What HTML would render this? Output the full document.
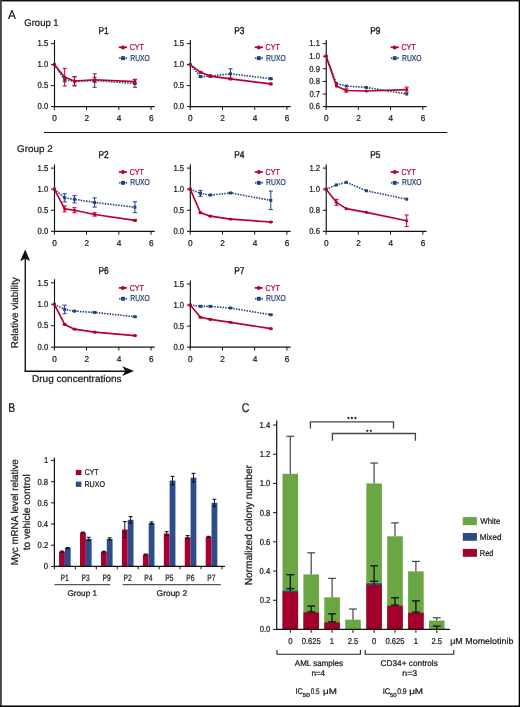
<!DOCTYPE html>
<html><head><meta charset="utf-8"><style>
html,body{margin:0;padding:0;background:#fff;}
#w{width:520px;height:707px;will-change:transform;}
svg{display:block;font-family:"Liberation Sans", sans-serif;text-rendering:geometricPrecision;}
</style></head><body><div id="w">
<svg width="520" height="707" viewBox="0 0 520 707">
<rect width="520" height="707" fill="#fff"/>
<text transform="translate(8.00 18.70) scale(0.931 1)" font-size="12.6" fill="#1a1a1a" stroke="#1a1a1a" stroke-width="0.24">A</text>
<text transform="translate(24.32 25.60) scale(0.980 1)" font-size="9.7" fill="#1a1a1a" stroke="#1a1a1a" stroke-width="0.24">Group 1</text>
<line x1="44.00" y1="132.50" x2="447.20" y2="132.50" stroke="#111" stroke-width="1.1"/>
<text transform="translate(17.11 152.00) scale(1.016 1)" font-size="9.7" fill="#1a1a1a" stroke="#1a1a1a" stroke-width="0.24">Group 2</text>
<line x1="54.50" y1="40.00" x2="54.50" y2="107.20" stroke="#111" stroke-width="1.15"/>
<line x1="53.90" y1="106.60" x2="154.77" y2="106.60" stroke="#111" stroke-width="1.2"/>
<line x1="51.05" y1="106.60" x2="54.35" y2="106.60" stroke="#111" stroke-width="1.0"/>
<text transform="translate(37.53 109.30) scale(0.880 1)" font-size="8.7" fill="#1a1a1a" stroke="#1a1a1a" stroke-width="0.24">0.0</text>
<line x1="51.05" y1="85.60" x2="54.35" y2="85.60" stroke="#111" stroke-width="1.0"/>
<text transform="translate(37.56 88.30) scale(0.880 1)" font-size="8.7" fill="#1a1a1a" stroke="#1a1a1a" stroke-width="0.24">0.5</text>
<line x1="51.05" y1="64.60" x2="54.35" y2="64.60" stroke="#111" stroke-width="1.0"/>
<text transform="translate(37.53 67.30) scale(0.880 1)" font-size="8.7" fill="#1a1a1a" stroke="#1a1a1a" stroke-width="0.24">1.0</text>
<line x1="51.05" y1="43.60" x2="54.35" y2="43.60" stroke="#111" stroke-width="1.0"/>
<text transform="translate(37.56 46.30) scale(0.880 1)" font-size="8.7" fill="#1a1a1a" stroke="#1a1a1a" stroke-width="0.24">1.5</text>
<line x1="54.35" y1="106.60" x2="54.35" y2="109.90" stroke="#111" stroke-width="1.0"/>
<text transform="translate(52.24 121.00) scale(0.970 1)" font-size="8.5" fill="#1a1a1a" stroke="#1a1a1a" stroke-width="0.24">0</text>
<line x1="86.59" y1="106.60" x2="86.59" y2="109.90" stroke="#111" stroke-width="1.0"/>
<text transform="translate(84.50 121.00) scale(0.970 1)" font-size="8.5" fill="#1a1a1a" stroke="#1a1a1a" stroke-width="0.24">2</text>
<line x1="118.83" y1="106.60" x2="118.83" y2="109.90" stroke="#111" stroke-width="1.0"/>
<text transform="translate(116.78 121.00) scale(0.970 1)" font-size="8.5" fill="#1a1a1a" stroke="#1a1a1a" stroke-width="0.24">4</text>
<line x1="151.07" y1="106.60" x2="151.07" y2="109.90" stroke="#111" stroke-width="1.0"/>
<text transform="translate(148.94 121.00) scale(0.970 1)" font-size="8.5" fill="#1a1a1a" stroke="#1a1a1a" stroke-width="0.24">6</text>
<text transform="translate(98.44 33.60) scale(0.830 1)" font-size="10.0" fill="#1a1a1a" stroke="#1a1a1a" stroke-width="0.4">P1</text>
<line x1="118.85" y1="47.30" x2="127.05" y2="47.30" stroke="#b80030" stroke-width="1.7"/>
<circle cx="122.95" cy="47.40" r="2.0" fill="#b80030"/>
<text transform="translate(129.69 50.00) scale(0.828 1)" font-size="8.6" fill="#b80030" stroke="#b80030" stroke-width="0.24">CYT</text>
<rect x="119.15" y="57.30" width="1.40" height="1.60" fill="#22407f"/>
<rect x="125.55" y="57.30" width="1.50" height="1.60" fill="#22407f"/>
<rect x="121.05" y="56.20" width="3.90" height="3.90" fill="#22407f"/>
<text transform="translate(130.26 60.50) scale(0.790 1)" font-size="8.6" fill="#22407f" stroke="#22407f" stroke-width="0.24">RUXO</text>
<polyline points="54.35,64.60 64.67,79.72 74.50,81.40 94.65,80.56 134.95,83.50" fill="none" stroke="#22407f" stroke-width="1.6" stroke-dasharray="1.5 1.2"/>
<rect x="52.85" y="63.10" width="3.00" height="3.00" fill="#22407f"/>
<line x1="64.67" y1="77.62" x2="64.67" y2="81.82" stroke="#22407f" stroke-width="1.0"/>
<line x1="62.57" y1="77.62" x2="66.77" y2="77.62" stroke="#22407f" stroke-width="1.0"/>
<line x1="62.57" y1="81.82" x2="66.77" y2="81.82" stroke="#22407f" stroke-width="1.0"/>
<rect x="63.17" y="78.22" width="3.00" height="3.00" fill="#22407f"/>
<line x1="74.50" y1="76.78" x2="74.50" y2="86.02" stroke="#22407f" stroke-width="1.0"/>
<line x1="72.40" y1="76.78" x2="76.60" y2="76.78" stroke="#22407f" stroke-width="1.0"/>
<line x1="72.40" y1="86.02" x2="76.60" y2="86.02" stroke="#22407f" stroke-width="1.0"/>
<rect x="73.00" y="79.90" width="3.00" height="3.00" fill="#22407f"/>
<line x1="94.65" y1="73.84" x2="94.65" y2="87.28" stroke="#22407f" stroke-width="1.0"/>
<line x1="92.55" y1="73.84" x2="96.75" y2="73.84" stroke="#22407f" stroke-width="1.0"/>
<line x1="92.55" y1="87.28" x2="96.75" y2="87.28" stroke="#22407f" stroke-width="1.0"/>
<rect x="93.15" y="79.06" width="3.00" height="3.00" fill="#22407f"/>
<line x1="134.95" y1="79.72" x2="134.95" y2="87.28" stroke="#22407f" stroke-width="1.0"/>
<line x1="132.85" y1="79.72" x2="137.05" y2="79.72" stroke="#22407f" stroke-width="1.0"/>
<line x1="132.85" y1="87.28" x2="137.05" y2="87.28" stroke="#22407f" stroke-width="1.0"/>
<rect x="133.45" y="82.00" width="3.00" height="3.00" fill="#22407f"/>
<polyline points="54.35,64.60 64.67,77.20 74.50,80.98 94.65,79.72 134.95,81.61" fill="none" stroke="#b80030" stroke-width="1.65" stroke-linejoin="round"/>
<circle cx="54.35" cy="64.60" r="1.6" fill="#b80030"/>
<line x1="64.67" y1="68.38" x2="64.67" y2="86.02" stroke="#b80030" stroke-width="1.0"/>
<line x1="62.57" y1="68.38" x2="66.77" y2="68.38" stroke="#b80030" stroke-width="1.0"/>
<line x1="62.57" y1="86.02" x2="66.77" y2="86.02" stroke="#b80030" stroke-width="1.0"/>
<circle cx="64.67" cy="77.20" r="1.6" fill="#b80030"/>
<line x1="74.50" y1="76.78" x2="74.50" y2="85.18" stroke="#b80030" stroke-width="1.0"/>
<line x1="72.40" y1="76.78" x2="76.60" y2="76.78" stroke="#b80030" stroke-width="1.0"/>
<line x1="72.40" y1="85.18" x2="76.60" y2="85.18" stroke="#b80030" stroke-width="1.0"/>
<circle cx="74.50" cy="80.98" r="1.6" fill="#b80030"/>
<line x1="94.65" y1="77.20" x2="94.65" y2="82.24" stroke="#b80030" stroke-width="1.0"/>
<line x1="92.55" y1="77.20" x2="96.75" y2="77.20" stroke="#b80030" stroke-width="1.0"/>
<line x1="92.55" y1="82.24" x2="96.75" y2="82.24" stroke="#b80030" stroke-width="1.0"/>
<circle cx="94.65" cy="79.72" r="1.6" fill="#b80030"/>
<line x1="134.95" y1="79.30" x2="134.95" y2="83.92" stroke="#b80030" stroke-width="1.0"/>
<line x1="132.85" y1="79.30" x2="137.05" y2="79.30" stroke="#b80030" stroke-width="1.0"/>
<line x1="132.85" y1="83.92" x2="137.05" y2="83.92" stroke="#b80030" stroke-width="1.0"/>
<circle cx="134.95" cy="81.61" r="1.6" fill="#b80030"/>
<line x1="190.35" y1="40.00" x2="190.35" y2="107.20" stroke="#111" stroke-width="1.15"/>
<line x1="189.75" y1="106.60" x2="290.62" y2="106.60" stroke="#111" stroke-width="1.2"/>
<line x1="186.90" y1="106.60" x2="190.20" y2="106.60" stroke="#111" stroke-width="1.0"/>
<text transform="translate(173.38 109.30) scale(0.880 1)" font-size="8.7" fill="#1a1a1a" stroke="#1a1a1a" stroke-width="0.24">0.0</text>
<line x1="186.90" y1="85.60" x2="190.20" y2="85.60" stroke="#111" stroke-width="1.0"/>
<text transform="translate(173.41 88.30) scale(0.880 1)" font-size="8.7" fill="#1a1a1a" stroke="#1a1a1a" stroke-width="0.24">0.5</text>
<line x1="186.90" y1="64.60" x2="190.20" y2="64.60" stroke="#111" stroke-width="1.0"/>
<text transform="translate(173.38 67.30) scale(0.880 1)" font-size="8.7" fill="#1a1a1a" stroke="#1a1a1a" stroke-width="0.24">1.0</text>
<line x1="186.90" y1="43.60" x2="190.20" y2="43.60" stroke="#111" stroke-width="1.0"/>
<text transform="translate(173.41 46.30) scale(0.880 1)" font-size="8.7" fill="#1a1a1a" stroke="#1a1a1a" stroke-width="0.24">1.5</text>
<line x1="190.20" y1="106.60" x2="190.20" y2="109.90" stroke="#111" stroke-width="1.0"/>
<text transform="translate(188.09 121.00) scale(0.970 1)" font-size="8.5" fill="#1a1a1a" stroke="#1a1a1a" stroke-width="0.24">0</text>
<line x1="222.44" y1="106.60" x2="222.44" y2="109.90" stroke="#111" stroke-width="1.0"/>
<text transform="translate(220.35 121.00) scale(0.970 1)" font-size="8.5" fill="#1a1a1a" stroke="#1a1a1a" stroke-width="0.24">2</text>
<line x1="254.68" y1="106.60" x2="254.68" y2="109.90" stroke="#111" stroke-width="1.0"/>
<text transform="translate(252.63 121.00) scale(0.970 1)" font-size="8.5" fill="#1a1a1a" stroke="#1a1a1a" stroke-width="0.24">4</text>
<line x1="286.92" y1="106.60" x2="286.92" y2="109.90" stroke="#111" stroke-width="1.0"/>
<text transform="translate(284.79 121.00) scale(0.970 1)" font-size="8.5" fill="#1a1a1a" stroke="#1a1a1a" stroke-width="0.24">6</text>
<text transform="translate(234.27 33.60) scale(0.830 1)" font-size="10.0" fill="#1a1a1a" stroke="#1a1a1a" stroke-width="0.4">P3</text>
<line x1="254.70" y1="47.30" x2="262.90" y2="47.30" stroke="#b80030" stroke-width="1.7"/>
<circle cx="258.80" cy="47.40" r="2.0" fill="#b80030"/>
<text transform="translate(265.54 50.00) scale(0.828 1)" font-size="8.6" fill="#b80030" stroke="#b80030" stroke-width="0.24">CYT</text>
<rect x="255.00" y="57.30" width="1.40" height="1.60" fill="#22407f"/>
<rect x="261.40" y="57.30" width="1.50" height="1.60" fill="#22407f"/>
<rect x="256.90" y="56.20" width="3.90" height="3.90" fill="#22407f"/>
<text transform="translate(266.11 60.50) scale(0.790 1)" font-size="8.6" fill="#22407f" stroke="#22407f" stroke-width="0.24">RUXO</text>
<polyline points="190.20,64.60 200.52,76.61 210.35,76.11 230.50,73.84 270.80,78.71" fill="none" stroke="#22407f" stroke-width="1.6" stroke-dasharray="1.5 1.2"/>
<rect x="188.70" y="63.10" width="3.00" height="3.00" fill="#22407f"/>
<line x1="200.52" y1="75.77" x2="200.52" y2="77.45" stroke="#22407f" stroke-width="1.0"/>
<line x1="198.42" y1="75.77" x2="202.62" y2="75.77" stroke="#22407f" stroke-width="1.0"/>
<line x1="198.42" y1="77.45" x2="202.62" y2="77.45" stroke="#22407f" stroke-width="1.0"/>
<rect x="199.02" y="75.11" width="3.00" height="3.00" fill="#22407f"/>
<line x1="210.35" y1="75.27" x2="210.35" y2="76.95" stroke="#22407f" stroke-width="1.0"/>
<line x1="208.25" y1="75.27" x2="212.45" y2="75.27" stroke="#22407f" stroke-width="1.0"/>
<line x1="208.25" y1="76.95" x2="212.45" y2="76.95" stroke="#22407f" stroke-width="1.0"/>
<rect x="208.85" y="74.61" width="3.00" height="3.00" fill="#22407f"/>
<line x1="230.50" y1="68.80" x2="230.50" y2="78.88" stroke="#22407f" stroke-width="1.0"/>
<line x1="228.40" y1="68.80" x2="232.60" y2="68.80" stroke="#22407f" stroke-width="1.0"/>
<line x1="228.40" y1="78.88" x2="232.60" y2="78.88" stroke="#22407f" stroke-width="1.0"/>
<rect x="229.00" y="72.34" width="3.00" height="3.00" fill="#22407f"/>
<line x1="270.80" y1="77.87" x2="270.80" y2="79.55" stroke="#22407f" stroke-width="1.0"/>
<line x1="268.70" y1="77.87" x2="272.90" y2="77.87" stroke="#22407f" stroke-width="1.0"/>
<line x1="268.70" y1="79.55" x2="272.90" y2="79.55" stroke="#22407f" stroke-width="1.0"/>
<rect x="269.30" y="77.21" width="3.00" height="3.00" fill="#22407f"/>
<polyline points="190.20,64.60 200.52,72.29 210.35,76.11 230.50,78.88 270.80,83.92" fill="none" stroke="#b80030" stroke-width="1.65" stroke-linejoin="round"/>
<circle cx="190.20" cy="64.60" r="1.6" fill="#b80030"/>
<line x1="200.52" y1="71.45" x2="200.52" y2="73.13" stroke="#b80030" stroke-width="1.0"/>
<line x1="198.42" y1="71.45" x2="202.62" y2="71.45" stroke="#b80030" stroke-width="1.0"/>
<line x1="198.42" y1="73.13" x2="202.62" y2="73.13" stroke="#b80030" stroke-width="1.0"/>
<circle cx="200.52" cy="72.29" r="1.6" fill="#b80030"/>
<line x1="210.35" y1="75.27" x2="210.35" y2="76.95" stroke="#b80030" stroke-width="1.0"/>
<line x1="208.25" y1="75.27" x2="212.45" y2="75.27" stroke="#b80030" stroke-width="1.0"/>
<line x1="208.25" y1="76.95" x2="212.45" y2="76.95" stroke="#b80030" stroke-width="1.0"/>
<circle cx="210.35" cy="76.11" r="1.6" fill="#b80030"/>
<line x1="230.50" y1="78.04" x2="230.50" y2="79.72" stroke="#b80030" stroke-width="1.0"/>
<line x1="228.40" y1="78.04" x2="232.60" y2="78.04" stroke="#b80030" stroke-width="1.0"/>
<line x1="228.40" y1="79.72" x2="232.60" y2="79.72" stroke="#b80030" stroke-width="1.0"/>
<circle cx="230.50" cy="78.88" r="1.6" fill="#b80030"/>
<line x1="270.80" y1="83.08" x2="270.80" y2="84.76" stroke="#b80030" stroke-width="1.0"/>
<line x1="268.70" y1="83.08" x2="272.90" y2="83.08" stroke="#b80030" stroke-width="1.0"/>
<line x1="268.70" y1="84.76" x2="272.90" y2="84.76" stroke="#b80030" stroke-width="1.0"/>
<circle cx="270.80" cy="83.92" r="1.6" fill="#b80030"/>
<line x1="326.25" y1="40.00" x2="326.25" y2="107.20" stroke="#111" stroke-width="1.15"/>
<line x1="325.65" y1="106.60" x2="426.52" y2="106.60" stroke="#111" stroke-width="1.2"/>
<line x1="322.80" y1="106.60" x2="326.10" y2="106.60" stroke="#111" stroke-width="1.0"/>
<text transform="translate(309.31 109.30) scale(0.880 1)" font-size="8.7" fill="#1a1a1a" stroke="#1a1a1a" stroke-width="0.24">0.6</text>
<line x1="322.80" y1="94.00" x2="326.10" y2="94.00" stroke="#111" stroke-width="1.0"/>
<text transform="translate(309.39 96.70) scale(0.880 1)" font-size="8.7" fill="#1a1a1a" stroke="#1a1a1a" stroke-width="0.24">0.7</text>
<line x1="322.80" y1="81.40" x2="326.10" y2="81.40" stroke="#111" stroke-width="1.0"/>
<text transform="translate(309.31 84.10) scale(0.880 1)" font-size="8.7" fill="#1a1a1a" stroke="#1a1a1a" stroke-width="0.24">0.8</text>
<line x1="322.80" y1="68.80" x2="326.10" y2="68.80" stroke="#111" stroke-width="1.0"/>
<text transform="translate(309.35 71.50) scale(0.880 1)" font-size="8.7" fill="#1a1a1a" stroke="#1a1a1a" stroke-width="0.24">0.9</text>
<line x1="322.80" y1="56.20" x2="326.10" y2="56.20" stroke="#111" stroke-width="1.0"/>
<text transform="translate(309.28 58.90) scale(0.880 1)" font-size="8.7" fill="#1a1a1a" stroke="#1a1a1a" stroke-width="0.24">1.0</text>
<line x1="322.80" y1="43.60" x2="326.10" y2="43.60" stroke="#111" stroke-width="1.0"/>
<text transform="translate(309.35 46.30) scale(0.880 1)" font-size="8.7" fill="#1a1a1a" stroke="#1a1a1a" stroke-width="0.24">1.1</text>
<line x1="326.10" y1="106.60" x2="326.10" y2="109.90" stroke="#111" stroke-width="1.0"/>
<text transform="translate(323.99 121.00) scale(0.970 1)" font-size="8.5" fill="#1a1a1a" stroke="#1a1a1a" stroke-width="0.24">0</text>
<line x1="358.34" y1="106.60" x2="358.34" y2="109.90" stroke="#111" stroke-width="1.0"/>
<text transform="translate(356.25 121.00) scale(0.970 1)" font-size="8.5" fill="#1a1a1a" stroke="#1a1a1a" stroke-width="0.24">2</text>
<line x1="390.58" y1="106.60" x2="390.58" y2="109.90" stroke="#111" stroke-width="1.0"/>
<text transform="translate(388.53 121.00) scale(0.970 1)" font-size="8.5" fill="#1a1a1a" stroke="#1a1a1a" stroke-width="0.24">4</text>
<line x1="422.82" y1="106.60" x2="422.82" y2="109.90" stroke="#111" stroke-width="1.0"/>
<text transform="translate(420.69 121.00) scale(0.970 1)" font-size="8.5" fill="#1a1a1a" stroke="#1a1a1a" stroke-width="0.24">6</text>
<text transform="translate(370.19 33.60) scale(0.830 1)" font-size="10.0" fill="#1a1a1a" stroke="#1a1a1a" stroke-width="0.4">P9</text>
<line x1="390.60" y1="47.30" x2="398.80" y2="47.30" stroke="#b80030" stroke-width="1.7"/>
<circle cx="394.70" cy="47.40" r="2.0" fill="#b80030"/>
<text transform="translate(401.44 50.00) scale(0.828 1)" font-size="8.6" fill="#b80030" stroke="#b80030" stroke-width="0.24">CYT</text>
<rect x="390.90" y="57.30" width="1.40" height="1.60" fill="#22407f"/>
<rect x="397.30" y="57.30" width="1.50" height="1.60" fill="#22407f"/>
<rect x="392.80" y="56.20" width="3.90" height="3.90" fill="#22407f"/>
<text transform="translate(402.01 60.50) scale(0.790 1)" font-size="8.6" fill="#22407f" stroke="#22407f" stroke-width="0.24">RUXO</text>
<polyline points="326.10,56.20 336.42,83.54 346.25,86.06 366.40,87.45 406.70,94.00" fill="none" stroke="#22407f" stroke-width="1.6" stroke-dasharray="1.5 1.2"/>
<rect x="324.60" y="54.70" width="3.00" height="3.00" fill="#22407f"/>
<rect x="334.92" y="82.04" width="3.00" height="3.00" fill="#22407f"/>
<rect x="344.75" y="84.56" width="3.00" height="3.00" fill="#22407f"/>
<rect x="364.90" y="85.95" width="3.00" height="3.00" fill="#22407f"/>
<rect x="405.20" y="92.50" width="3.00" height="3.00" fill="#22407f"/>
<polyline points="326.10,56.20 336.42,86.06 346.25,90.47 366.40,90.98 406.70,89.59" fill="none" stroke="#b80030" stroke-width="1.65" stroke-linejoin="round"/>
<circle cx="326.10" cy="56.20" r="1.6" fill="#b80030"/>
<circle cx="336.42" cy="86.06" r="1.6" fill="#b80030"/>
<line x1="346.25" y1="88.83" x2="346.25" y2="92.11" stroke="#b80030" stroke-width="1.0"/>
<line x1="344.15" y1="88.83" x2="348.35" y2="88.83" stroke="#b80030" stroke-width="1.0"/>
<line x1="344.15" y1="92.11" x2="348.35" y2="92.11" stroke="#b80030" stroke-width="1.0"/>
<circle cx="346.25" cy="90.47" r="1.6" fill="#b80030"/>
<circle cx="366.40" cy="90.98" r="1.6" fill="#b80030"/>
<line x1="406.70" y1="87.07" x2="406.70" y2="92.11" stroke="#b80030" stroke-width="1.0"/>
<line x1="404.60" y1="87.07" x2="408.80" y2="87.07" stroke="#b80030" stroke-width="1.0"/>
<line x1="404.60" y1="92.11" x2="408.80" y2="92.11" stroke="#b80030" stroke-width="1.0"/>
<circle cx="406.70" cy="89.59" r="1.6" fill="#b80030"/>
<line x1="54.50" y1="164.50" x2="54.50" y2="231.90" stroke="#111" stroke-width="1.15"/>
<line x1="53.90" y1="231.30" x2="154.77" y2="231.30" stroke="#111" stroke-width="1.2"/>
<line x1="51.05" y1="231.30" x2="54.35" y2="231.30" stroke="#111" stroke-width="1.0"/>
<text transform="translate(37.53 234.00) scale(0.880 1)" font-size="8.7" fill="#1a1a1a" stroke="#1a1a1a" stroke-width="0.24">0.0</text>
<line x1="51.05" y1="210.23" x2="54.35" y2="210.23" stroke="#111" stroke-width="1.0"/>
<text transform="translate(37.56 212.93) scale(0.880 1)" font-size="8.7" fill="#1a1a1a" stroke="#1a1a1a" stroke-width="0.24">0.5</text>
<line x1="51.05" y1="189.17" x2="54.35" y2="189.17" stroke="#111" stroke-width="1.0"/>
<text transform="translate(37.53 191.87) scale(0.880 1)" font-size="8.7" fill="#1a1a1a" stroke="#1a1a1a" stroke-width="0.24">1.0</text>
<line x1="51.05" y1="168.10" x2="54.35" y2="168.10" stroke="#111" stroke-width="1.0"/>
<text transform="translate(37.56 170.80) scale(0.880 1)" font-size="8.7" fill="#1a1a1a" stroke="#1a1a1a" stroke-width="0.24">1.5</text>
<line x1="54.35" y1="231.30" x2="54.35" y2="234.60" stroke="#111" stroke-width="1.0"/>
<text transform="translate(52.24 245.70) scale(0.970 1)" font-size="8.5" fill="#1a1a1a" stroke="#1a1a1a" stroke-width="0.24">0</text>
<line x1="86.59" y1="231.30" x2="86.59" y2="234.60" stroke="#111" stroke-width="1.0"/>
<text transform="translate(84.50 245.70) scale(0.970 1)" font-size="8.5" fill="#1a1a1a" stroke="#1a1a1a" stroke-width="0.24">2</text>
<line x1="118.83" y1="231.30" x2="118.83" y2="234.60" stroke="#111" stroke-width="1.0"/>
<text transform="translate(116.78 245.70) scale(0.970 1)" font-size="8.5" fill="#1a1a1a" stroke="#1a1a1a" stroke-width="0.24">4</text>
<line x1="151.07" y1="231.30" x2="151.07" y2="234.60" stroke="#111" stroke-width="1.0"/>
<text transform="translate(148.94 245.70) scale(0.970 1)" font-size="8.5" fill="#1a1a1a" stroke="#1a1a1a" stroke-width="0.24">6</text>
<text transform="translate(98.46 158.30) scale(0.830 1)" font-size="10.0" fill="#1a1a1a" stroke="#1a1a1a" stroke-width="0.4">P2</text>
<line x1="118.85" y1="172.00" x2="127.05" y2="172.00" stroke="#b80030" stroke-width="1.7"/>
<circle cx="122.95" cy="172.10" r="2.0" fill="#b80030"/>
<text transform="translate(129.69 174.70) scale(0.828 1)" font-size="8.6" fill="#b80030" stroke="#b80030" stroke-width="0.24">CYT</text>
<rect x="119.15" y="182.00" width="1.40" height="1.60" fill="#22407f"/>
<rect x="125.55" y="182.00" width="1.50" height="1.60" fill="#22407f"/>
<rect x="121.05" y="180.90" width="3.90" height="3.90" fill="#22407f"/>
<text transform="translate(130.26 185.20) scale(0.790 1)" font-size="8.6" fill="#22407f" stroke="#22407f" stroke-width="0.24">RUXO</text>
<polyline points="54.35,189.17 64.67,197.80 74.50,199.28 94.65,202.48 134.95,207.20" fill="none" stroke="#22407f" stroke-width="1.6" stroke-dasharray="1.5 1.2"/>
<rect x="52.85" y="187.67" width="3.00" height="3.00" fill="#22407f"/>
<line x1="64.67" y1="193.80" x2="64.67" y2="201.81" stroke="#22407f" stroke-width="1.0"/>
<line x1="62.57" y1="193.80" x2="66.77" y2="193.80" stroke="#22407f" stroke-width="1.0"/>
<line x1="62.57" y1="201.81" x2="66.77" y2="201.81" stroke="#22407f" stroke-width="1.0"/>
<rect x="63.17" y="196.30" width="3.00" height="3.00" fill="#22407f"/>
<line x1="74.50" y1="195.70" x2="74.50" y2="202.86" stroke="#22407f" stroke-width="1.0"/>
<line x1="72.40" y1="195.70" x2="76.60" y2="195.70" stroke="#22407f" stroke-width="1.0"/>
<line x1="72.40" y1="202.86" x2="76.60" y2="202.86" stroke="#22407f" stroke-width="1.0"/>
<rect x="73.00" y="197.78" width="3.00" height="3.00" fill="#22407f"/>
<line x1="94.65" y1="197.85" x2="94.65" y2="207.12" stroke="#22407f" stroke-width="1.0"/>
<line x1="92.55" y1="197.85" x2="96.75" y2="197.85" stroke="#22407f" stroke-width="1.0"/>
<line x1="92.55" y1="207.12" x2="96.75" y2="207.12" stroke="#22407f" stroke-width="1.0"/>
<rect x="93.15" y="200.98" width="3.00" height="3.00" fill="#22407f"/>
<line x1="134.95" y1="201.72" x2="134.95" y2="212.68" stroke="#22407f" stroke-width="1.0"/>
<line x1="132.85" y1="201.72" x2="137.05" y2="201.72" stroke="#22407f" stroke-width="1.0"/>
<line x1="132.85" y1="212.68" x2="137.05" y2="212.68" stroke="#22407f" stroke-width="1.0"/>
<rect x="133.45" y="205.70" width="3.00" height="3.00" fill="#22407f"/>
<polyline points="54.35,189.17 64.67,208.89 74.50,210.23 94.65,214.45 134.95,220.35" fill="none" stroke="#b80030" stroke-width="1.65" stroke-linejoin="round"/>
<circle cx="54.35" cy="189.17" r="1.6" fill="#b80030"/>
<line x1="64.67" y1="205.94" x2="64.67" y2="211.83" stroke="#b80030" stroke-width="1.0"/>
<line x1="62.57" y1="205.94" x2="66.77" y2="205.94" stroke="#b80030" stroke-width="1.0"/>
<line x1="62.57" y1="211.83" x2="66.77" y2="211.83" stroke="#b80030" stroke-width="1.0"/>
<circle cx="64.67" cy="208.89" r="1.6" fill="#b80030"/>
<line x1="74.50" y1="207.71" x2="74.50" y2="212.76" stroke="#b80030" stroke-width="1.0"/>
<line x1="72.40" y1="207.71" x2="76.60" y2="207.71" stroke="#b80030" stroke-width="1.0"/>
<line x1="72.40" y1="212.76" x2="76.60" y2="212.76" stroke="#b80030" stroke-width="1.0"/>
<circle cx="74.50" cy="210.23" r="1.6" fill="#b80030"/>
<line x1="94.65" y1="212.76" x2="94.65" y2="216.13" stroke="#b80030" stroke-width="1.0"/>
<line x1="92.55" y1="212.76" x2="96.75" y2="212.76" stroke="#b80030" stroke-width="1.0"/>
<line x1="92.55" y1="216.13" x2="96.75" y2="216.13" stroke="#b80030" stroke-width="1.0"/>
<circle cx="94.65" cy="214.45" r="1.6" fill="#b80030"/>
<line x1="134.95" y1="219.50" x2="134.95" y2="221.19" stroke="#b80030" stroke-width="1.0"/>
<line x1="132.85" y1="219.50" x2="137.05" y2="219.50" stroke="#b80030" stroke-width="1.0"/>
<line x1="132.85" y1="221.19" x2="137.05" y2="221.19" stroke="#b80030" stroke-width="1.0"/>
<circle cx="134.95" cy="220.35" r="1.6" fill="#b80030"/>
<line x1="190.35" y1="164.50" x2="190.35" y2="231.90" stroke="#111" stroke-width="1.15"/>
<line x1="189.75" y1="231.30" x2="290.62" y2="231.30" stroke="#111" stroke-width="1.2"/>
<line x1="186.90" y1="231.30" x2="190.20" y2="231.30" stroke="#111" stroke-width="1.0"/>
<text transform="translate(173.38 234.00) scale(0.880 1)" font-size="8.7" fill="#1a1a1a" stroke="#1a1a1a" stroke-width="0.24">0.0</text>
<line x1="186.90" y1="210.23" x2="190.20" y2="210.23" stroke="#111" stroke-width="1.0"/>
<text transform="translate(173.41 212.93) scale(0.880 1)" font-size="8.7" fill="#1a1a1a" stroke="#1a1a1a" stroke-width="0.24">0.5</text>
<line x1="186.90" y1="189.17" x2="190.20" y2="189.17" stroke="#111" stroke-width="1.0"/>
<text transform="translate(173.38 191.87) scale(0.880 1)" font-size="8.7" fill="#1a1a1a" stroke="#1a1a1a" stroke-width="0.24">1.0</text>
<line x1="186.90" y1="168.10" x2="190.20" y2="168.10" stroke="#111" stroke-width="1.0"/>
<text transform="translate(173.41 170.80) scale(0.880 1)" font-size="8.7" fill="#1a1a1a" stroke="#1a1a1a" stroke-width="0.24">1.5</text>
<line x1="190.20" y1="231.30" x2="190.20" y2="234.60" stroke="#111" stroke-width="1.0"/>
<text transform="translate(188.09 245.70) scale(0.970 1)" font-size="8.5" fill="#1a1a1a" stroke="#1a1a1a" stroke-width="0.24">0</text>
<line x1="222.44" y1="231.30" x2="222.44" y2="234.60" stroke="#111" stroke-width="1.0"/>
<text transform="translate(220.35 245.70) scale(0.970 1)" font-size="8.5" fill="#1a1a1a" stroke="#1a1a1a" stroke-width="0.24">2</text>
<line x1="254.68" y1="231.30" x2="254.68" y2="234.60" stroke="#111" stroke-width="1.0"/>
<text transform="translate(252.63 245.70) scale(0.970 1)" font-size="8.5" fill="#1a1a1a" stroke="#1a1a1a" stroke-width="0.24">4</text>
<line x1="286.92" y1="231.30" x2="286.92" y2="234.60" stroke="#111" stroke-width="1.0"/>
<text transform="translate(284.79 245.70) scale(0.970 1)" font-size="8.5" fill="#1a1a1a" stroke="#1a1a1a" stroke-width="0.24">6</text>
<text transform="translate(234.23 158.30) scale(0.830 1)" font-size="10.0" fill="#1a1a1a" stroke="#1a1a1a" stroke-width="0.4">P4</text>
<line x1="254.70" y1="172.00" x2="262.90" y2="172.00" stroke="#b80030" stroke-width="1.7"/>
<circle cx="258.80" cy="172.10" r="2.0" fill="#b80030"/>
<text transform="translate(265.54 174.70) scale(0.828 1)" font-size="8.6" fill="#b80030" stroke="#b80030" stroke-width="0.24">CYT</text>
<rect x="255.00" y="182.00" width="1.40" height="1.60" fill="#22407f"/>
<rect x="261.40" y="182.00" width="1.50" height="1.60" fill="#22407f"/>
<rect x="256.90" y="180.90" width="3.90" height="3.90" fill="#22407f"/>
<text transform="translate(266.11 185.20) scale(0.790 1)" font-size="8.6" fill="#22407f" stroke="#22407f" stroke-width="0.24">RUXO</text>
<polyline points="190.20,189.17 200.52,193.38 210.35,195.07 230.50,192.96 270.80,200.33" fill="none" stroke="#22407f" stroke-width="1.6" stroke-dasharray="1.5 1.2"/>
<rect x="188.70" y="187.67" width="3.00" height="3.00" fill="#22407f"/>
<line x1="200.52" y1="190.43" x2="200.52" y2="196.33" stroke="#22407f" stroke-width="1.0"/>
<line x1="198.42" y1="190.43" x2="202.62" y2="190.43" stroke="#22407f" stroke-width="1.0"/>
<line x1="198.42" y1="196.33" x2="202.62" y2="196.33" stroke="#22407f" stroke-width="1.0"/>
<rect x="199.02" y="191.88" width="3.00" height="3.00" fill="#22407f"/>
<line x1="210.35" y1="194.64" x2="210.35" y2="195.49" stroke="#22407f" stroke-width="1.0"/>
<line x1="208.25" y1="194.64" x2="212.45" y2="194.64" stroke="#22407f" stroke-width="1.0"/>
<line x1="208.25" y1="195.49" x2="212.45" y2="195.49" stroke="#22407f" stroke-width="1.0"/>
<rect x="208.85" y="193.57" width="3.00" height="3.00" fill="#22407f"/>
<line x1="230.50" y1="192.54" x2="230.50" y2="193.38" stroke="#22407f" stroke-width="1.0"/>
<line x1="228.40" y1="192.54" x2="232.60" y2="192.54" stroke="#22407f" stroke-width="1.0"/>
<line x1="228.40" y1="193.38" x2="232.60" y2="193.38" stroke="#22407f" stroke-width="1.0"/>
<rect x="229.00" y="191.46" width="3.00" height="3.00" fill="#22407f"/>
<line x1="270.80" y1="191.06" x2="270.80" y2="209.60" stroke="#22407f" stroke-width="1.0"/>
<line x1="268.70" y1="191.06" x2="272.90" y2="191.06" stroke="#22407f" stroke-width="1.0"/>
<line x1="268.70" y1="209.60" x2="272.90" y2="209.60" stroke="#22407f" stroke-width="1.0"/>
<rect x="269.30" y="198.83" width="3.00" height="3.00" fill="#22407f"/>
<polyline points="190.20,189.17 200.52,212.76 210.35,216.13 230.50,219.08 270.80,222.03" fill="none" stroke="#b80030" stroke-width="1.65" stroke-linejoin="round"/>
<circle cx="190.20" cy="189.17" r="1.6" fill="#b80030"/>
<line x1="200.52" y1="212.34" x2="200.52" y2="213.18" stroke="#b80030" stroke-width="1.0"/>
<line x1="198.42" y1="212.34" x2="202.62" y2="212.34" stroke="#b80030" stroke-width="1.0"/>
<line x1="198.42" y1="213.18" x2="202.62" y2="213.18" stroke="#b80030" stroke-width="1.0"/>
<circle cx="200.52" cy="212.76" r="1.6" fill="#b80030"/>
<line x1="210.35" y1="215.71" x2="210.35" y2="216.55" stroke="#b80030" stroke-width="1.0"/>
<line x1="208.25" y1="215.71" x2="212.45" y2="215.71" stroke="#b80030" stroke-width="1.0"/>
<line x1="208.25" y1="216.55" x2="212.45" y2="216.55" stroke="#b80030" stroke-width="1.0"/>
<circle cx="210.35" cy="216.13" r="1.6" fill="#b80030"/>
<line x1="230.50" y1="218.66" x2="230.50" y2="219.50" stroke="#b80030" stroke-width="1.0"/>
<line x1="228.40" y1="218.66" x2="232.60" y2="218.66" stroke="#b80030" stroke-width="1.0"/>
<line x1="228.40" y1="219.50" x2="232.60" y2="219.50" stroke="#b80030" stroke-width="1.0"/>
<circle cx="230.50" cy="219.08" r="1.6" fill="#b80030"/>
<line x1="270.80" y1="221.61" x2="270.80" y2="222.45" stroke="#b80030" stroke-width="1.0"/>
<line x1="268.70" y1="221.61" x2="272.90" y2="221.61" stroke="#b80030" stroke-width="1.0"/>
<line x1="268.70" y1="222.45" x2="272.90" y2="222.45" stroke="#b80030" stroke-width="1.0"/>
<circle cx="270.80" cy="222.03" r="1.6" fill="#b80030"/>
<line x1="326.25" y1="164.50" x2="326.25" y2="231.90" stroke="#111" stroke-width="1.15"/>
<line x1="325.65" y1="231.30" x2="426.52" y2="231.30" stroke="#111" stroke-width="1.2"/>
<line x1="322.80" y1="231.30" x2="326.10" y2="231.30" stroke="#111" stroke-width="1.0"/>
<text transform="translate(309.31 234.00) scale(0.880 1)" font-size="8.7" fill="#1a1a1a" stroke="#1a1a1a" stroke-width="0.24">0.6</text>
<line x1="322.80" y1="210.23" x2="326.10" y2="210.23" stroke="#111" stroke-width="1.0"/>
<text transform="translate(309.31 212.93) scale(0.880 1)" font-size="8.7" fill="#1a1a1a" stroke="#1a1a1a" stroke-width="0.24">0.8</text>
<line x1="322.80" y1="189.17" x2="326.10" y2="189.17" stroke="#111" stroke-width="1.0"/>
<text transform="translate(309.28 191.87) scale(0.880 1)" font-size="8.7" fill="#1a1a1a" stroke="#1a1a1a" stroke-width="0.24">1.0</text>
<line x1="322.80" y1="168.10" x2="326.10" y2="168.10" stroke="#111" stroke-width="1.0"/>
<text transform="translate(309.39 170.80) scale(0.880 1)" font-size="8.7" fill="#1a1a1a" stroke="#1a1a1a" stroke-width="0.24">1.2</text>
<line x1="326.10" y1="231.30" x2="326.10" y2="234.60" stroke="#111" stroke-width="1.0"/>
<text transform="translate(323.99 245.70) scale(0.970 1)" font-size="8.5" fill="#1a1a1a" stroke="#1a1a1a" stroke-width="0.24">0</text>
<line x1="358.34" y1="231.30" x2="358.34" y2="234.60" stroke="#111" stroke-width="1.0"/>
<text transform="translate(356.25 245.70) scale(0.970 1)" font-size="8.5" fill="#1a1a1a" stroke="#1a1a1a" stroke-width="0.24">2</text>
<line x1="390.58" y1="231.30" x2="390.58" y2="234.60" stroke="#111" stroke-width="1.0"/>
<text transform="translate(388.53 245.70) scale(0.970 1)" font-size="8.5" fill="#1a1a1a" stroke="#1a1a1a" stroke-width="0.24">4</text>
<line x1="422.82" y1="231.30" x2="422.82" y2="234.60" stroke="#111" stroke-width="1.0"/>
<text transform="translate(420.69 245.70) scale(0.970 1)" font-size="8.5" fill="#1a1a1a" stroke="#1a1a1a" stroke-width="0.24">6</text>
<text transform="translate(370.17 158.30) scale(0.830 1)" font-size="10.0" fill="#1a1a1a" stroke="#1a1a1a" stroke-width="0.4">P5</text>
<line x1="390.60" y1="172.00" x2="398.80" y2="172.00" stroke="#b80030" stroke-width="1.7"/>
<circle cx="394.70" cy="172.10" r="2.0" fill="#b80030"/>
<text transform="translate(401.44 174.70) scale(0.828 1)" font-size="8.6" fill="#b80030" stroke="#b80030" stroke-width="0.24">CYT</text>
<rect x="390.90" y="182.00" width="1.40" height="1.60" fill="#22407f"/>
<rect x="397.30" y="182.00" width="1.50" height="1.60" fill="#22407f"/>
<rect x="392.80" y="180.90" width="3.90" height="3.90" fill="#22407f"/>
<text transform="translate(402.01 185.20) scale(0.790 1)" font-size="8.6" fill="#22407f" stroke="#22407f" stroke-width="0.24">RUXO</text>
<polyline points="326.10,189.17 336.42,184.95 346.25,182.32 366.40,190.75 406.70,199.17" fill="none" stroke="#22407f" stroke-width="1.6" stroke-dasharray="1.5 1.2"/>
<rect x="324.60" y="187.67" width="3.00" height="3.00" fill="#22407f"/>
<rect x="334.92" y="183.45" width="3.00" height="3.00" fill="#22407f"/>
<rect x="344.75" y="180.82" width="3.00" height="3.00" fill="#22407f"/>
<rect x="364.90" y="189.25" width="3.00" height="3.00" fill="#22407f"/>
<rect x="405.20" y="197.67" width="3.00" height="3.00" fill="#22407f"/>
<polyline points="326.10,189.17 336.42,202.33 346.25,208.65 366.40,212.34 406.70,220.77" fill="none" stroke="#b80030" stroke-width="1.65" stroke-linejoin="round"/>
<circle cx="326.10" cy="189.17" r="1.6" fill="#b80030"/>
<line x1="336.42" y1="199.38" x2="336.42" y2="205.28" stroke="#b80030" stroke-width="1.0"/>
<line x1="334.32" y1="199.38" x2="338.52" y2="199.38" stroke="#b80030" stroke-width="1.0"/>
<line x1="334.32" y1="205.28" x2="338.52" y2="205.28" stroke="#b80030" stroke-width="1.0"/>
<circle cx="336.42" cy="202.33" r="1.6" fill="#b80030"/>
<circle cx="346.25" cy="208.65" r="1.6" fill="#b80030"/>
<circle cx="366.40" cy="212.34" r="1.6" fill="#b80030"/>
<line x1="406.70" y1="214.97" x2="406.70" y2="226.56" stroke="#b80030" stroke-width="1.0"/>
<line x1="404.60" y1="214.97" x2="408.80" y2="214.97" stroke="#b80030" stroke-width="1.0"/>
<line x1="404.60" y1="226.56" x2="408.80" y2="226.56" stroke="#b80030" stroke-width="1.0"/>
<circle cx="406.70" cy="220.77" r="1.6" fill="#b80030"/>
<line x1="54.50" y1="279.20" x2="54.50" y2="347.80" stroke="#111" stroke-width="1.15"/>
<line x1="53.90" y1="347.20" x2="154.77" y2="347.20" stroke="#111" stroke-width="1.2"/>
<line x1="51.05" y1="347.20" x2="54.35" y2="347.20" stroke="#111" stroke-width="1.0"/>
<text transform="translate(37.53 349.90) scale(0.880 1)" font-size="8.7" fill="#1a1a1a" stroke="#1a1a1a" stroke-width="0.24">0.0</text>
<line x1="51.05" y1="325.73" x2="54.35" y2="325.73" stroke="#111" stroke-width="1.0"/>
<text transform="translate(37.56 328.43) scale(0.880 1)" font-size="8.7" fill="#1a1a1a" stroke="#1a1a1a" stroke-width="0.24">0.5</text>
<line x1="51.05" y1="304.27" x2="54.35" y2="304.27" stroke="#111" stroke-width="1.0"/>
<text transform="translate(37.53 306.97) scale(0.880 1)" font-size="8.7" fill="#1a1a1a" stroke="#1a1a1a" stroke-width="0.24">1.0</text>
<line x1="51.05" y1="282.80" x2="54.35" y2="282.80" stroke="#111" stroke-width="1.0"/>
<text transform="translate(37.56 285.50) scale(0.880 1)" font-size="8.7" fill="#1a1a1a" stroke="#1a1a1a" stroke-width="0.24">1.5</text>
<line x1="54.35" y1="347.20" x2="54.35" y2="350.50" stroke="#111" stroke-width="1.0"/>
<text transform="translate(52.24 361.60) scale(0.970 1)" font-size="8.5" fill="#1a1a1a" stroke="#1a1a1a" stroke-width="0.24">0</text>
<line x1="86.59" y1="347.20" x2="86.59" y2="350.50" stroke="#111" stroke-width="1.0"/>
<text transform="translate(84.50 361.60) scale(0.970 1)" font-size="8.5" fill="#1a1a1a" stroke="#1a1a1a" stroke-width="0.24">2</text>
<line x1="118.83" y1="347.20" x2="118.83" y2="350.50" stroke="#111" stroke-width="1.0"/>
<text transform="translate(116.78 361.60) scale(0.970 1)" font-size="8.5" fill="#1a1a1a" stroke="#1a1a1a" stroke-width="0.24">4</text>
<line x1="151.07" y1="347.20" x2="151.07" y2="350.50" stroke="#111" stroke-width="1.0"/>
<text transform="translate(148.94 361.60) scale(0.970 1)" font-size="8.5" fill="#1a1a1a" stroke="#1a1a1a" stroke-width="0.24">6</text>
<text transform="translate(98.42 274.20) scale(0.830 1)" font-size="10.0" fill="#1a1a1a" stroke="#1a1a1a" stroke-width="0.4">P6</text>
<line x1="118.85" y1="287.90" x2="127.05" y2="287.90" stroke="#b80030" stroke-width="1.7"/>
<circle cx="122.95" cy="288.00" r="2.0" fill="#b80030"/>
<text transform="translate(129.69 290.60) scale(0.828 1)" font-size="8.6" fill="#b80030" stroke="#b80030" stroke-width="0.24">CYT</text>
<rect x="119.15" y="297.90" width="1.40" height="1.60" fill="#22407f"/>
<rect x="125.55" y="297.90" width="1.50" height="1.60" fill="#22407f"/>
<rect x="121.05" y="296.80" width="3.90" height="3.90" fill="#22407f"/>
<text transform="translate(130.26 301.10) scale(0.790 1)" font-size="8.6" fill="#22407f" stroke="#22407f" stroke-width="0.24">RUXO</text>
<polyline points="54.35,304.27 64.67,309.42 74.50,311.14 94.65,312.42 134.95,316.72" fill="none" stroke="#22407f" stroke-width="1.6" stroke-dasharray="1.5 1.2"/>
<rect x="52.85" y="302.77" width="3.00" height="3.00" fill="#22407f"/>
<line x1="64.67" y1="305.13" x2="64.67" y2="313.71" stroke="#22407f" stroke-width="1.0"/>
<line x1="62.57" y1="305.13" x2="66.77" y2="305.13" stroke="#22407f" stroke-width="1.0"/>
<line x1="62.57" y1="313.71" x2="66.77" y2="313.71" stroke="#22407f" stroke-width="1.0"/>
<rect x="63.17" y="307.92" width="3.00" height="3.00" fill="#22407f"/>
<line x1="74.50" y1="310.71" x2="74.50" y2="311.57" stroke="#22407f" stroke-width="1.0"/>
<line x1="72.40" y1="310.71" x2="76.60" y2="310.71" stroke="#22407f" stroke-width="1.0"/>
<line x1="72.40" y1="311.57" x2="76.60" y2="311.57" stroke="#22407f" stroke-width="1.0"/>
<rect x="73.00" y="309.64" width="3.00" height="3.00" fill="#22407f"/>
<line x1="94.65" y1="311.99" x2="94.65" y2="312.85" stroke="#22407f" stroke-width="1.0"/>
<line x1="92.55" y1="311.99" x2="96.75" y2="311.99" stroke="#22407f" stroke-width="1.0"/>
<line x1="92.55" y1="312.85" x2="96.75" y2="312.85" stroke="#22407f" stroke-width="1.0"/>
<rect x="93.15" y="310.92" width="3.00" height="3.00" fill="#22407f"/>
<line x1="134.95" y1="316.29" x2="134.95" y2="317.15" stroke="#22407f" stroke-width="1.0"/>
<line x1="132.85" y1="316.29" x2="137.05" y2="316.29" stroke="#22407f" stroke-width="1.0"/>
<line x1="132.85" y1="317.15" x2="137.05" y2="317.15" stroke="#22407f" stroke-width="1.0"/>
<rect x="133.45" y="315.22" width="3.00" height="3.00" fill="#22407f"/>
<polyline points="54.35,304.27 64.67,324.45 74.50,329.17 94.65,332.17 134.95,335.61" fill="none" stroke="#b80030" stroke-width="1.65" stroke-linejoin="round"/>
<circle cx="54.35" cy="304.27" r="1.6" fill="#b80030"/>
<line x1="64.67" y1="324.02" x2="64.67" y2="324.87" stroke="#b80030" stroke-width="1.0"/>
<line x1="62.57" y1="324.02" x2="66.77" y2="324.02" stroke="#b80030" stroke-width="1.0"/>
<line x1="62.57" y1="324.87" x2="66.77" y2="324.87" stroke="#b80030" stroke-width="1.0"/>
<circle cx="64.67" cy="324.45" r="1.6" fill="#b80030"/>
<line x1="74.50" y1="328.74" x2="74.50" y2="329.60" stroke="#b80030" stroke-width="1.0"/>
<line x1="72.40" y1="328.74" x2="76.60" y2="328.74" stroke="#b80030" stroke-width="1.0"/>
<line x1="72.40" y1="329.60" x2="76.60" y2="329.60" stroke="#b80030" stroke-width="1.0"/>
<circle cx="74.50" cy="329.17" r="1.6" fill="#b80030"/>
<line x1="94.65" y1="331.74" x2="94.65" y2="332.60" stroke="#b80030" stroke-width="1.0"/>
<line x1="92.55" y1="331.74" x2="96.75" y2="331.74" stroke="#b80030" stroke-width="1.0"/>
<line x1="92.55" y1="332.60" x2="96.75" y2="332.60" stroke="#b80030" stroke-width="1.0"/>
<circle cx="94.65" cy="332.17" r="1.6" fill="#b80030"/>
<line x1="134.95" y1="335.18" x2="134.95" y2="336.04" stroke="#b80030" stroke-width="1.0"/>
<line x1="132.85" y1="335.18" x2="137.05" y2="335.18" stroke="#b80030" stroke-width="1.0"/>
<line x1="132.85" y1="336.04" x2="137.05" y2="336.04" stroke="#b80030" stroke-width="1.0"/>
<circle cx="134.95" cy="335.61" r="1.6" fill="#b80030"/>
<line x1="190.35" y1="280.40" x2="190.35" y2="347.80" stroke="#111" stroke-width="1.15"/>
<line x1="189.75" y1="347.20" x2="290.62" y2="347.20" stroke="#111" stroke-width="1.2"/>
<line x1="186.90" y1="347.20" x2="190.20" y2="347.20" stroke="#111" stroke-width="1.0"/>
<text transform="translate(173.38 349.90) scale(0.880 1)" font-size="8.7" fill="#1a1a1a" stroke="#1a1a1a" stroke-width="0.24">0.0</text>
<line x1="186.90" y1="326.13" x2="190.20" y2="326.13" stroke="#111" stroke-width="1.0"/>
<text transform="translate(173.41 328.83) scale(0.880 1)" font-size="8.7" fill="#1a1a1a" stroke="#1a1a1a" stroke-width="0.24">0.5</text>
<line x1="186.90" y1="305.07" x2="190.20" y2="305.07" stroke="#111" stroke-width="1.0"/>
<text transform="translate(173.38 307.77) scale(0.880 1)" font-size="8.7" fill="#1a1a1a" stroke="#1a1a1a" stroke-width="0.24">1.0</text>
<line x1="186.90" y1="284.00" x2="190.20" y2="284.00" stroke="#111" stroke-width="1.0"/>
<text transform="translate(173.41 286.70) scale(0.880 1)" font-size="8.7" fill="#1a1a1a" stroke="#1a1a1a" stroke-width="0.24">1.5</text>
<line x1="190.20" y1="347.20" x2="190.20" y2="350.50" stroke="#111" stroke-width="1.0"/>
<text transform="translate(188.09 361.60) scale(0.970 1)" font-size="8.5" fill="#1a1a1a" stroke="#1a1a1a" stroke-width="0.24">0</text>
<line x1="222.44" y1="347.20" x2="222.44" y2="350.50" stroke="#111" stroke-width="1.0"/>
<text transform="translate(220.35 361.60) scale(0.970 1)" font-size="8.5" fill="#1a1a1a" stroke="#1a1a1a" stroke-width="0.24">2</text>
<line x1="254.68" y1="347.20" x2="254.68" y2="350.50" stroke="#111" stroke-width="1.0"/>
<text transform="translate(252.63 361.60) scale(0.970 1)" font-size="8.5" fill="#1a1a1a" stroke="#1a1a1a" stroke-width="0.24">4</text>
<line x1="286.92" y1="347.20" x2="286.92" y2="350.50" stroke="#111" stroke-width="1.0"/>
<text transform="translate(284.79 361.60) scale(0.970 1)" font-size="8.5" fill="#1a1a1a" stroke="#1a1a1a" stroke-width="0.24">6</text>
<text transform="translate(234.31 274.20) scale(0.830 1)" font-size="10.0" fill="#1a1a1a" stroke="#1a1a1a" stroke-width="0.4">P7</text>
<line x1="254.70" y1="287.90" x2="262.90" y2="287.90" stroke="#b80030" stroke-width="1.7"/>
<circle cx="258.80" cy="288.00" r="2.0" fill="#b80030"/>
<text transform="translate(265.54 290.60) scale(0.828 1)" font-size="8.6" fill="#b80030" stroke="#b80030" stroke-width="0.24">CYT</text>
<rect x="255.00" y="297.90" width="1.40" height="1.60" fill="#22407f"/>
<rect x="261.40" y="297.90" width="1.50" height="1.60" fill="#22407f"/>
<rect x="256.90" y="296.80" width="3.90" height="3.90" fill="#22407f"/>
<text transform="translate(266.11 301.10) scale(0.790 1)" font-size="8.6" fill="#22407f" stroke="#22407f" stroke-width="0.24">RUXO</text>
<polyline points="190.20,305.07 200.52,306.33 210.35,306.33 230.50,308.02 270.80,314.76" fill="none" stroke="#22407f" stroke-width="1.6" stroke-dasharray="1.5 1.2"/>
<rect x="188.70" y="303.57" width="3.00" height="3.00" fill="#22407f"/>
<line x1="200.52" y1="305.91" x2="200.52" y2="306.75" stroke="#22407f" stroke-width="1.0"/>
<line x1="198.42" y1="305.91" x2="202.62" y2="305.91" stroke="#22407f" stroke-width="1.0"/>
<line x1="198.42" y1="306.75" x2="202.62" y2="306.75" stroke="#22407f" stroke-width="1.0"/>
<rect x="199.02" y="304.83" width="3.00" height="3.00" fill="#22407f"/>
<line x1="210.35" y1="305.91" x2="210.35" y2="306.75" stroke="#22407f" stroke-width="1.0"/>
<line x1="208.25" y1="305.91" x2="212.45" y2="305.91" stroke="#22407f" stroke-width="1.0"/>
<line x1="208.25" y1="306.75" x2="212.45" y2="306.75" stroke="#22407f" stroke-width="1.0"/>
<rect x="208.85" y="304.83" width="3.00" height="3.00" fill="#22407f"/>
<line x1="230.50" y1="307.59" x2="230.50" y2="308.44" stroke="#22407f" stroke-width="1.0"/>
<line x1="228.40" y1="307.59" x2="232.60" y2="307.59" stroke="#22407f" stroke-width="1.0"/>
<line x1="228.40" y1="308.44" x2="232.60" y2="308.44" stroke="#22407f" stroke-width="1.0"/>
<rect x="229.00" y="306.52" width="3.00" height="3.00" fill="#22407f"/>
<line x1="270.80" y1="314.34" x2="270.80" y2="315.18" stroke="#22407f" stroke-width="1.0"/>
<line x1="268.70" y1="314.34" x2="272.90" y2="314.34" stroke="#22407f" stroke-width="1.0"/>
<line x1="268.70" y1="315.18" x2="272.90" y2="315.18" stroke="#22407f" stroke-width="1.0"/>
<rect x="269.30" y="313.26" width="3.00" height="3.00" fill="#22407f"/>
<polyline points="190.20,305.07 200.52,317.29 210.35,319.39 230.50,322.34 270.80,328.66" fill="none" stroke="#b80030" stroke-width="1.65" stroke-linejoin="round"/>
<circle cx="190.20" cy="305.07" r="1.6" fill="#b80030"/>
<line x1="200.52" y1="316.86" x2="200.52" y2="317.71" stroke="#b80030" stroke-width="1.0"/>
<line x1="198.42" y1="316.86" x2="202.62" y2="316.86" stroke="#b80030" stroke-width="1.0"/>
<line x1="198.42" y1="317.71" x2="202.62" y2="317.71" stroke="#b80030" stroke-width="1.0"/>
<circle cx="200.52" cy="317.29" r="1.6" fill="#b80030"/>
<line x1="210.35" y1="318.97" x2="210.35" y2="319.81" stroke="#b80030" stroke-width="1.0"/>
<line x1="208.25" y1="318.97" x2="212.45" y2="318.97" stroke="#b80030" stroke-width="1.0"/>
<line x1="208.25" y1="319.81" x2="212.45" y2="319.81" stroke="#b80030" stroke-width="1.0"/>
<circle cx="210.35" cy="319.39" r="1.6" fill="#b80030"/>
<line x1="230.50" y1="321.92" x2="230.50" y2="322.76" stroke="#b80030" stroke-width="1.0"/>
<line x1="228.40" y1="321.92" x2="232.60" y2="321.92" stroke="#b80030" stroke-width="1.0"/>
<line x1="228.40" y1="322.76" x2="232.60" y2="322.76" stroke="#b80030" stroke-width="1.0"/>
<circle cx="230.50" cy="322.34" r="1.6" fill="#b80030"/>
<line x1="270.80" y1="328.24" x2="270.80" y2="329.08" stroke="#b80030" stroke-width="1.0"/>
<line x1="268.70" y1="328.24" x2="272.90" y2="328.24" stroke="#b80030" stroke-width="1.0"/>
<line x1="268.70" y1="329.08" x2="272.90" y2="329.08" stroke="#b80030" stroke-width="1.0"/>
<circle cx="270.80" cy="328.66" r="1.6" fill="#b80030"/>
<line x1="25.30" y1="371.90" x2="25.30" y2="257.00" stroke="#1a1a1a" stroke-width="1.45"/>
<polygon points="25.2,249.4 20.2,261.2 25.2,258.4 30.1,261.2" fill="#111"/>
<line x1="24.60" y1="371.20" x2="126.00" y2="371.20" stroke="#111" stroke-width="1.4"/>
<polygon points="134,371.1 122.3,366.2 125.2,371.1 122.3,376.0" fill="#111"/>
<text transform="translate(18.00 348.29) rotate(-90) scale(1.002 1)" font-size="9.9" fill="#1a1a1a" stroke="#1a1a1a" stroke-width="0.24">Relative viability</text>
<text transform="translate(32.00 381.50) scale(1.022 1)" font-size="9.8" fill="#1a1a1a" stroke="#1a1a1a" stroke-width="0.24">Drug concentrations</text>
<text transform="translate(8.16 411.80) scale(0.824 1)" font-size="12.7" fill="#1a1a1a" stroke="#1a1a1a" stroke-width="0.24">B</text>
<line x1="51.10" y1="566.45" x2="54.40" y2="566.45" stroke="#111" stroke-width="1.0"/>
<text transform="translate(43.82 569.45) scale(0.880 1)" font-size="8.7" fill="#1a1a1a" stroke="#1a1a1a" stroke-width="0.24">0</text>
<line x1="51.10" y1="545.25" x2="54.40" y2="545.25" stroke="#111" stroke-width="1.0"/>
<text transform="translate(37.54 548.25) scale(0.880 1)" font-size="8.7" fill="#1a1a1a" stroke="#1a1a1a" stroke-width="0.24">0.2</text>
<line x1="51.10" y1="524.05" x2="54.40" y2="524.05" stroke="#111" stroke-width="1.0"/>
<text transform="translate(37.39 527.05) scale(0.880 1)" font-size="8.7" fill="#1a1a1a" stroke="#1a1a1a" stroke-width="0.24">0.4</text>
<line x1="51.10" y1="502.85" x2="54.40" y2="502.85" stroke="#111" stroke-width="1.0"/>
<text transform="translate(37.46 505.85) scale(0.880 1)" font-size="8.7" fill="#1a1a1a" stroke="#1a1a1a" stroke-width="0.24">0.6</text>
<line x1="51.10" y1="481.65" x2="54.40" y2="481.65" stroke="#111" stroke-width="1.0"/>
<text transform="translate(37.46 484.65) scale(0.880 1)" font-size="8.7" fill="#1a1a1a" stroke="#1a1a1a" stroke-width="0.24">0.8</text>
<line x1="51.10" y1="460.45" x2="54.40" y2="460.45" stroke="#111" stroke-width="1.0"/>
<text transform="translate(43.90 463.45) scale(0.880 1)" font-size="8.7" fill="#1a1a1a" stroke="#1a1a1a" stroke-width="0.24">1</text>
<line x1="54.40" y1="566.45" x2="54.40" y2="569.25" stroke="#111" stroke-width="1.0"/>
<line x1="75.35" y1="566.45" x2="75.35" y2="569.25" stroke="#111" stroke-width="1.0"/>
<line x1="96.30" y1="566.45" x2="96.30" y2="569.25" stroke="#111" stroke-width="1.0"/>
<line x1="117.25" y1="566.45" x2="117.25" y2="569.25" stroke="#111" stroke-width="1.0"/>
<line x1="138.20" y1="566.45" x2="138.20" y2="569.25" stroke="#111" stroke-width="1.0"/>
<line x1="159.15" y1="566.45" x2="159.15" y2="569.25" stroke="#111" stroke-width="1.0"/>
<line x1="180.10" y1="566.45" x2="180.10" y2="569.25" stroke="#111" stroke-width="1.0"/>
<line x1="201.05" y1="566.45" x2="201.05" y2="569.25" stroke="#111" stroke-width="1.0"/>
<line x1="222.00" y1="566.45" x2="222.00" y2="569.25" stroke="#111" stroke-width="1.0"/>
<rect x="59.08" y="551.61" width="5.80" height="14.84" fill="#a8002e"/>
<rect x="64.88" y="547.90" width="5.80" height="18.55" fill="#2c4c8a"/>
<line x1="61.98" y1="551.08" x2="61.98" y2="552.14" stroke="#111" stroke-width="1.0"/>
<line x1="60.08" y1="551.08" x2="63.88" y2="551.08" stroke="#111" stroke-width="1.1"/>
<line x1="60.08" y1="552.14" x2="63.88" y2="552.14" stroke="#111" stroke-width="1.1"/>
<line x1="67.78" y1="547.48" x2="67.78" y2="548.32" stroke="#111" stroke-width="1.0"/>
<line x1="65.88" y1="547.48" x2="69.68" y2="547.48" stroke="#111" stroke-width="1.1"/>
<line x1="65.88" y1="548.32" x2="69.68" y2="548.32" stroke="#111" stroke-width="1.1"/>
<text transform="translate(60.56 580.60) scale(0.730 1)" font-size="9.2" fill="#1a1a1a" stroke="#1a1a1a" stroke-width="0.24">P1</text>
<rect x="80.02" y="532.53" width="5.80" height="33.92" fill="#a8002e"/>
<rect x="85.82" y="538.89" width="5.80" height="27.56" fill="#2c4c8a"/>
<line x1="82.92" y1="532.11" x2="82.92" y2="532.95" stroke="#111" stroke-width="1.0"/>
<line x1="81.02" y1="532.11" x2="84.82" y2="532.11" stroke="#111" stroke-width="1.1"/>
<line x1="81.02" y1="532.95" x2="84.82" y2="532.95" stroke="#111" stroke-width="1.1"/>
<line x1="88.72" y1="537.30" x2="88.72" y2="540.48" stroke="#111" stroke-width="1.0"/>
<line x1="86.82" y1="537.30" x2="90.62" y2="537.30" stroke="#111" stroke-width="1.1"/>
<line x1="86.82" y1="540.48" x2="90.62" y2="540.48" stroke="#111" stroke-width="1.1"/>
<text transform="translate(81.49 580.60) scale(0.730 1)" font-size="9.2" fill="#1a1a1a" stroke="#1a1a1a" stroke-width="0.24">P3</text>
<rect x="100.98" y="551.61" width="5.80" height="14.84" fill="#a8002e"/>
<rect x="106.78" y="538.89" width="5.80" height="27.56" fill="#2c4c8a"/>
<line x1="103.88" y1="551.19" x2="103.88" y2="552.03" stroke="#111" stroke-width="1.0"/>
<line x1="101.97" y1="551.19" x2="105.78" y2="551.19" stroke="#111" stroke-width="1.1"/>
<line x1="101.97" y1="552.03" x2="105.78" y2="552.03" stroke="#111" stroke-width="1.1"/>
<line x1="109.68" y1="537.83" x2="109.68" y2="539.95" stroke="#111" stroke-width="1.0"/>
<line x1="107.78" y1="537.83" x2="111.58" y2="537.83" stroke="#111" stroke-width="1.1"/>
<line x1="107.78" y1="539.95" x2="111.58" y2="539.95" stroke="#111" stroke-width="1.1"/>
<text transform="translate(102.46 580.60) scale(0.730 1)" font-size="9.2" fill="#1a1a1a" stroke="#1a1a1a" stroke-width="0.24">P9</text>
<rect x="121.92" y="529.56" width="5.80" height="36.89" fill="#a8002e"/>
<rect x="127.72" y="519.81" width="5.80" height="46.64" fill="#2c4c8a"/>
<line x1="124.82" y1="521.61" x2="124.82" y2="537.51" stroke="#111" stroke-width="1.0"/>
<line x1="122.92" y1="521.61" x2="126.72" y2="521.61" stroke="#111" stroke-width="1.1"/>
<line x1="122.92" y1="537.51" x2="126.72" y2="537.51" stroke="#111" stroke-width="1.1"/>
<line x1="130.62" y1="516.63" x2="130.62" y2="522.99" stroke="#111" stroke-width="1.0"/>
<line x1="128.72" y1="516.63" x2="132.53" y2="516.63" stroke="#111" stroke-width="1.1"/>
<line x1="128.72" y1="522.99" x2="132.53" y2="522.99" stroke="#111" stroke-width="1.1"/>
<text transform="translate(123.43 580.60) scale(0.730 1)" font-size="9.2" fill="#1a1a1a" stroke="#1a1a1a" stroke-width="0.24">P2</text>
<rect x="142.87" y="554.47" width="5.80" height="11.98" fill="#a8002e"/>
<rect x="148.67" y="522.99" width="5.80" height="43.46" fill="#2c4c8a"/>
<line x1="145.77" y1="554.05" x2="145.77" y2="554.90" stroke="#111" stroke-width="1.0"/>
<line x1="143.87" y1="554.05" x2="147.67" y2="554.05" stroke="#111" stroke-width="1.1"/>
<line x1="143.87" y1="554.90" x2="147.67" y2="554.90" stroke="#111" stroke-width="1.1"/>
<line x1="151.57" y1="521.93" x2="151.57" y2="524.05" stroke="#111" stroke-width="1.0"/>
<line x1="149.67" y1="521.93" x2="153.47" y2="521.93" stroke="#111" stroke-width="1.1"/>
<line x1="149.67" y1="524.05" x2="153.47" y2="524.05" stroke="#111" stroke-width="1.1"/>
<text transform="translate(144.31 580.60) scale(0.730 1)" font-size="9.2" fill="#1a1a1a" stroke="#1a1a1a" stroke-width="0.24">P4</text>
<rect x="163.82" y="533.59" width="5.80" height="32.86" fill="#a8002e"/>
<rect x="169.62" y="480.59" width="5.80" height="85.86" fill="#2c4c8a"/>
<line x1="166.72" y1="531.68" x2="166.72" y2="535.50" stroke="#111" stroke-width="1.0"/>
<line x1="164.82" y1="531.68" x2="168.62" y2="531.68" stroke="#111" stroke-width="1.1"/>
<line x1="164.82" y1="535.50" x2="168.62" y2="535.50" stroke="#111" stroke-width="1.1"/>
<line x1="172.53" y1="476.35" x2="172.53" y2="484.83" stroke="#111" stroke-width="1.0"/>
<line x1="170.62" y1="476.35" x2="174.43" y2="476.35" stroke="#111" stroke-width="1.1"/>
<line x1="170.62" y1="484.83" x2="174.43" y2="484.83" stroke="#111" stroke-width="1.1"/>
<text transform="translate(165.29 580.60) scale(0.730 1)" font-size="9.2" fill="#1a1a1a" stroke="#1a1a1a" stroke-width="0.24">P5</text>
<rect x="184.77" y="537.19" width="5.80" height="29.26" fill="#a8002e"/>
<rect x="190.57" y="477.62" width="5.80" height="88.83" fill="#2c4c8a"/>
<line x1="187.67" y1="535.60" x2="187.67" y2="538.78" stroke="#111" stroke-width="1.0"/>
<line x1="185.77" y1="535.60" x2="189.57" y2="535.60" stroke="#111" stroke-width="1.1"/>
<line x1="185.77" y1="538.78" x2="189.57" y2="538.78" stroke="#111" stroke-width="1.1"/>
<line x1="193.47" y1="473.38" x2="193.47" y2="481.86" stroke="#111" stroke-width="1.0"/>
<line x1="191.57" y1="473.38" x2="195.38" y2="473.38" stroke="#111" stroke-width="1.1"/>
<line x1="191.57" y1="481.86" x2="195.38" y2="481.86" stroke="#111" stroke-width="1.1"/>
<text transform="translate(186.24 580.60) scale(0.730 1)" font-size="9.2" fill="#1a1a1a" stroke="#1a1a1a" stroke-width="0.24">P6</text>
<rect x="205.72" y="536.77" width="5.80" height="29.68" fill="#a8002e"/>
<rect x="211.53" y="502.85" width="5.80" height="63.60" fill="#2c4c8a"/>
<line x1="208.62" y1="536.35" x2="208.62" y2="537.19" stroke="#111" stroke-width="1.0"/>
<line x1="206.72" y1="536.35" x2="210.53" y2="536.35" stroke="#111" stroke-width="1.1"/>
<line x1="206.72" y1="537.19" x2="210.53" y2="537.19" stroke="#111" stroke-width="1.1"/>
<line x1="214.43" y1="499.25" x2="214.43" y2="506.45" stroke="#111" stroke-width="1.0"/>
<line x1="212.53" y1="499.25" x2="216.33" y2="499.25" stroke="#111" stroke-width="1.1"/>
<line x1="212.53" y1="506.45" x2="216.33" y2="506.45" stroke="#111" stroke-width="1.1"/>
<text transform="translate(207.23 580.60) scale(0.730 1)" font-size="9.2" fill="#1a1a1a" stroke="#1a1a1a" stroke-width="0.24">P7</text>
<line x1="54.40" y1="457.80" x2="54.40" y2="567.05" stroke="#111" stroke-width="1.2"/>
<line x1="53.80" y1="566.45" x2="225.00" y2="566.45" stroke="#111" stroke-width="1.25"/>
<line x1="54.40" y1="584.60" x2="110.20" y2="584.60" stroke="#555" stroke-width="1.3"/>
<line x1="122.70" y1="584.60" x2="220.80" y2="584.60" stroke="#555" stroke-width="1.3"/>
<text transform="translate(67.49 595.70) scale(0.999 1)" font-size="8.2" fill="#1a1a1a" stroke="#1a1a1a" stroke-width="0.24">Group 1</text>
<text transform="translate(156.58 595.70) scale(1.032 1)" font-size="8.2" fill="#1a1a1a" stroke="#1a1a1a" stroke-width="0.24">Group 2</text>
<rect x="75.80" y="469.90" width="5.60" height="5.20" fill="#a8002e"/>
<rect x="75.80" y="481.60" width="5.60" height="5.30" fill="#2c4c8a"/>
<text transform="translate(84.66 475.30) scale(0.830 1)" font-size="8.3" fill="#1a1a1a" stroke="#1a1a1a" stroke-width="0.24">CYT</text>
<text transform="translate(84.43 487.00) scale(0.860 1)" font-size="8.3" fill="#1a1a1a" stroke="#1a1a1a" stroke-width="0.24">RUXO</text>
<text transform="translate(18.10 565.28) rotate(-90) scale(0.979 1)" font-size="10.0" fill="#1a1a1a" stroke="#1a1a1a" stroke-width="0.24">Myc mRNA level relative</text>
<text transform="translate(29.60 550.35) rotate(-90) scale(1.013 1)" font-size="10.0" fill="#1a1a1a" stroke="#1a1a1a" stroke-width="0.24">to vehicle control</text>
<text transform="translate(241.86 412.00) scale(0.843 1)" font-size="12.7" fill="#1a1a1a" stroke="#1a1a1a" stroke-width="0.24">C</text>
<line x1="273.10" y1="629.45" x2="276.70" y2="629.45" stroke="#111" stroke-width="1.0"/>
<text transform="translate(259.63 632.45) scale(0.880 1)" font-size="8.7" fill="#1a1a1a" stroke="#1a1a1a" stroke-width="0.24">0.0</text>
<line x1="273.10" y1="600.25" x2="276.70" y2="600.25" stroke="#111" stroke-width="1.0"/>
<text transform="translate(259.74 603.25) scale(0.880 1)" font-size="8.7" fill="#1a1a1a" stroke="#1a1a1a" stroke-width="0.24">0.2</text>
<line x1="273.10" y1="571.05" x2="276.70" y2="571.05" stroke="#111" stroke-width="1.0"/>
<text transform="translate(259.59 574.05) scale(0.880 1)" font-size="8.7" fill="#1a1a1a" stroke="#1a1a1a" stroke-width="0.24">0.4</text>
<line x1="273.10" y1="541.85" x2="276.70" y2="541.85" stroke="#111" stroke-width="1.0"/>
<text transform="translate(259.66 544.85) scale(0.880 1)" font-size="8.7" fill="#1a1a1a" stroke="#1a1a1a" stroke-width="0.24">0.6</text>
<line x1="273.10" y1="512.65" x2="276.70" y2="512.65" stroke="#111" stroke-width="1.0"/>
<text transform="translate(259.66 515.65) scale(0.880 1)" font-size="8.7" fill="#1a1a1a" stroke="#1a1a1a" stroke-width="0.24">0.8</text>
<line x1="273.10" y1="483.45" x2="276.70" y2="483.45" stroke="#111" stroke-width="1.0"/>
<text transform="translate(259.63 486.45) scale(0.880 1)" font-size="8.7" fill="#1a1a1a" stroke="#1a1a1a" stroke-width="0.24">1.0</text>
<line x1="273.10" y1="454.25" x2="276.70" y2="454.25" stroke="#111" stroke-width="1.0"/>
<text transform="translate(259.74 457.25) scale(0.880 1)" font-size="8.7" fill="#1a1a1a" stroke="#1a1a1a" stroke-width="0.24">1.2</text>
<line x1="273.10" y1="425.05" x2="276.70" y2="425.05" stroke="#111" stroke-width="1.0"/>
<text transform="translate(259.59 428.05) scale(0.880 1)" font-size="8.7" fill="#1a1a1a" stroke="#1a1a1a" stroke-width="0.24">1.4</text>
<rect x="282.50" y="473.81" width="15.60" height="155.64" fill="#6aa643"/>
<rect x="282.50" y="591.49" width="15.60" height="37.96" fill="#a3002b"/>
<rect x="282.50" y="590.61" width="15.60" height="1.18" fill="#2c4a84"/>
<line x1="290.30" y1="436.29" x2="290.30" y2="473.81" stroke="#444" stroke-width="1.2"/>
<line x1="286.40" y1="436.29" x2="294.20" y2="436.29" stroke="#444" stroke-width="1.2"/>
<line x1="290.30" y1="574.70" x2="290.30" y2="591.49" stroke="#111" stroke-width="1.3"/>
<line x1="286.40" y1="574.70" x2="294.20" y2="574.70" stroke="#111" stroke-width="1.3"/>
<line x1="286.40" y1="588.57" x2="294.20" y2="588.57" stroke="#111" stroke-width="1.3"/>
<line x1="290.30" y1="629.45" x2="290.30" y2="632.75" stroke="#111" stroke-width="1.0"/>
<rect x="303.40" y="574.41" width="15.60" height="55.04" fill="#6aa643"/>
<rect x="303.40" y="612.37" width="15.60" height="17.08" fill="#a3002b"/>
<line x1="311.20" y1="552.80" x2="311.20" y2="574.41" stroke="#444" stroke-width="1.2"/>
<line x1="307.30" y1="552.80" x2="315.10" y2="552.80" stroke="#444" stroke-width="1.2"/>
<line x1="311.20" y1="606.09" x2="311.20" y2="612.37" stroke="#111" stroke-width="1.3"/>
<line x1="307.30" y1="606.09" x2="315.10" y2="606.09" stroke="#111" stroke-width="1.3"/>
<line x1="307.30" y1="611.93" x2="315.10" y2="611.93" stroke="#111" stroke-width="1.3"/>
<line x1="311.20" y1="629.45" x2="311.20" y2="632.75" stroke="#111" stroke-width="1.0"/>
<rect x="324.30" y="597.33" width="15.60" height="32.12" fill="#6aa643"/>
<rect x="324.30" y="622.30" width="15.60" height="7.15" fill="#a3002b"/>
<line x1="332.10" y1="578.35" x2="332.10" y2="597.33" stroke="#444" stroke-width="1.2"/>
<line x1="328.20" y1="578.35" x2="336.00" y2="578.35" stroke="#444" stroke-width="1.2"/>
<line x1="332.10" y1="613.83" x2="332.10" y2="622.30" stroke="#111" stroke-width="1.3"/>
<line x1="328.20" y1="613.83" x2="336.00" y2="613.83" stroke="#111" stroke-width="1.3"/>
<line x1="328.20" y1="621.86" x2="336.00" y2="621.86" stroke="#111" stroke-width="1.3"/>
<line x1="332.10" y1="629.45" x2="332.10" y2="632.75" stroke="#111" stroke-width="1.0"/>
<rect x="345.20" y="619.67" width="15.60" height="9.78" fill="#6aa643"/>
<line x1="353.00" y1="609.01" x2="353.00" y2="619.67" stroke="#444" stroke-width="1.2"/>
<line x1="349.10" y1="609.01" x2="356.90" y2="609.01" stroke="#444" stroke-width="1.2"/>
<line x1="353.00" y1="629.45" x2="353.00" y2="632.75" stroke="#111" stroke-width="1.0"/>
<rect x="366.30" y="483.45" width="15.60" height="146.00" fill="#6aa643"/>
<rect x="366.30" y="584.77" width="15.60" height="44.68" fill="#a3002b"/>
<rect x="366.30" y="583.31" width="15.60" height="1.77" fill="#2c4a84"/>
<line x1="374.10" y1="463.01" x2="374.10" y2="483.45" stroke="#444" stroke-width="1.2"/>
<line x1="370.20" y1="463.01" x2="378.00" y2="463.01" stroke="#444" stroke-width="1.2"/>
<line x1="374.10" y1="565.79" x2="374.10" y2="584.77" stroke="#111" stroke-width="1.3"/>
<line x1="370.20" y1="565.79" x2="378.00" y2="565.79" stroke="#111" stroke-width="1.3"/>
<line x1="370.20" y1="581.27" x2="378.00" y2="581.27" stroke="#111" stroke-width="1.3"/>
<line x1="374.10" y1="629.45" x2="374.10" y2="632.75" stroke="#111" stroke-width="1.0"/>
<rect x="387.20" y="536.30" width="15.60" height="93.15" fill="#6aa643"/>
<rect x="387.20" y="605.65" width="15.60" height="23.80" fill="#a3002b"/>
<line x1="395.00" y1="522.87" x2="395.00" y2="536.30" stroke="#444" stroke-width="1.2"/>
<line x1="391.10" y1="522.87" x2="398.90" y2="522.87" stroke="#444" stroke-width="1.2"/>
<line x1="395.00" y1="597.77" x2="395.00" y2="605.65" stroke="#111" stroke-width="1.3"/>
<line x1="391.10" y1="597.77" x2="398.90" y2="597.77" stroke="#111" stroke-width="1.3"/>
<line x1="391.10" y1="605.07" x2="398.90" y2="605.07" stroke="#111" stroke-width="1.3"/>
<line x1="395.00" y1="629.45" x2="395.00" y2="632.75" stroke="#111" stroke-width="1.0"/>
<rect x="408.10" y="571.34" width="15.60" height="58.11" fill="#6aa643"/>
<rect x="408.10" y="612.81" width="15.60" height="16.64" fill="#a3002b"/>
<line x1="415.90" y1="561.41" x2="415.90" y2="571.34" stroke="#444" stroke-width="1.2"/>
<line x1="412.00" y1="561.41" x2="419.80" y2="561.41" stroke="#444" stroke-width="1.2"/>
<line x1="415.90" y1="600.83" x2="415.90" y2="612.81" stroke="#111" stroke-width="1.3"/>
<line x1="412.00" y1="600.83" x2="419.80" y2="600.83" stroke="#111" stroke-width="1.3"/>
<line x1="412.00" y1="612.22" x2="419.80" y2="612.22" stroke="#111" stroke-width="1.3"/>
<line x1="415.90" y1="629.45" x2="415.90" y2="632.75" stroke="#111" stroke-width="1.0"/>
<rect x="429.00" y="620.54" width="15.60" height="8.91" fill="#6aa643"/>
<line x1="436.80" y1="617.77" x2="436.80" y2="620.54" stroke="#444" stroke-width="1.2"/>
<line x1="432.90" y1="617.77" x2="440.70" y2="617.77" stroke="#444" stroke-width="1.2"/>
<line x1="436.80" y1="626.09" x2="436.80" y2="629.45" stroke="#111" stroke-width="1.3"/>
<line x1="432.90" y1="626.09" x2="440.70" y2="626.09" stroke="#111" stroke-width="1.3"/>
<line x1="436.80" y1="629.45" x2="436.80" y2="632.75" stroke="#111" stroke-width="1.0"/>
<line x1="276.70" y1="420.40" x2="276.70" y2="630.05" stroke="#111" stroke-width="1.2"/>
<line x1="276.10" y1="629.45" x2="450.00" y2="629.45" stroke="#111" stroke-width="1.25"/>
<text transform="translate(288.16 643.70) scale(0.900 1)" font-size="8.5" fill="#1a1a1a" stroke="#1a1a1a" stroke-width="0.24">0</text>
<text transform="translate(301.64 643.70) scale(0.900 1)" font-size="8.5" fill="#1a1a1a" stroke="#1a1a1a" stroke-width="0.24">0.625</text>
<text transform="translate(329.86 643.70) scale(0.900 1)" font-size="8.5" fill="#1a1a1a" stroke="#1a1a1a" stroke-width="0.24">1</text>
<text transform="translate(347.64 643.70) scale(0.900 1)" font-size="8.5" fill="#1a1a1a" stroke="#1a1a1a" stroke-width="0.24">2.5</text>
<text transform="translate(371.96 643.70) scale(0.900 1)" font-size="8.5" fill="#1a1a1a" stroke="#1a1a1a" stroke-width="0.24">0</text>
<text transform="translate(385.44 643.70) scale(0.900 1)" font-size="8.5" fill="#1a1a1a" stroke="#1a1a1a" stroke-width="0.24">0.625</text>
<text transform="translate(413.66 643.70) scale(0.900 1)" font-size="8.5" fill="#1a1a1a" stroke="#1a1a1a" stroke-width="0.24">1</text>
<text transform="translate(431.44 643.70) scale(0.900 1)" font-size="8.5" fill="#1a1a1a" stroke="#1a1a1a" stroke-width="0.24">2.5</text>
<text transform="translate(450.22 644.00) scale(1.038 1)" font-size="8.6" fill="#1a1a1a" stroke="#1a1a1a" stroke-width="0.24">&#956;M Momelotinib</text>
<polyline points="310.4,428.5 310.4,421.8 393.5,421.8 393.5,428.5" fill="none" stroke="#444" stroke-width="1.3"/>
<polyline points="332.4,440.8 332.4,433.5 415.4,433.5 415.4,440.8" fill="none" stroke="#444" stroke-width="1.3"/>
<circle cx="348.4" cy="418.0" r="1.15" fill="#2a2a2a"/>
<circle cx="351.9" cy="418.0" r="1.15" fill="#2a2a2a"/>
<circle cx="355.4" cy="418.0" r="1.15" fill="#2a2a2a"/>
<circle cx="367.3" cy="430.8" r="1.15" fill="#2a2a2a"/>
<circle cx="370.8" cy="430.8" r="1.15" fill="#2a2a2a"/>
<polyline points="277,650 277,654.2 360.4,654.2 360.4,650" fill="none" stroke="#222" stroke-width="1.1"/>
<polyline points="365.2,650 365.2,654.2 453.8,654.2 453.8,650" fill="none" stroke="#222" stroke-width="1.1"/>
<text transform="translate(294.80 665.60) scale(0.966 1)" font-size="8.3" fill="#1a1a1a" stroke="#1a1a1a" stroke-width="0.24">AML samples</text>
<text transform="translate(311.38 676.20) scale(0.971 1)" font-size="8.3" fill="#1a1a1a" stroke="#1a1a1a" stroke-width="0.24">n=4</text>
<text transform="translate(380.59 665.60) scale(0.996 1)" font-size="8.3" fill="#1a1a1a" stroke="#1a1a1a" stroke-width="0.24">CD34+ controls</text>
<text transform="translate(402.23 676.20) scale(1.061 1)" font-size="8.3" fill="#1a1a1a" stroke="#1a1a1a" stroke-width="0.24">n=3</text>
<text transform="translate(295.44 694.30) scale(0.903 1)" font-size="8.1" fill="#1a1a1a" stroke="#1a1a1a" stroke-width="0.24">IC</text>
<text transform="translate(302.64 696.60) scale(1.173 1)" font-size="5.6" fill="#1a1a1a" stroke="#1a1a1a" stroke-width="0.24">50</text>
<text transform="translate(310.74 694.30) scale(0.792 1)" font-size="8.1" fill="#1a1a1a" stroke="#1a1a1a" stroke-width="0.24">0.5</text>
<text transform="translate(323.07 694.30) scale(1.205 1)" font-size="8.1" fill="#1a1a1a" stroke="#1a1a1a" stroke-width="0.24">&#956;M</text>
<text transform="translate(382.72 694.30) scale(0.931 1)" font-size="8.1" fill="#1a1a1a" stroke="#1a1a1a" stroke-width="0.24">IC</text>
<text transform="translate(389.96 696.60) scale(1.052 1)" font-size="5.6" fill="#1a1a1a" stroke="#1a1a1a" stroke-width="0.24">50</text>
<text transform="translate(397.13 694.30) scale(0.842 1)" font-size="8.1" fill="#1a1a1a" stroke="#1a1a1a" stroke-width="0.24">0.9</text>
<text transform="translate(409.16 694.30) scale(1.215 1)" font-size="8.1" fill="#1a1a1a" stroke="#1a1a1a" stroke-width="0.24">&#956;M</text>
<text transform="translate(251.50 585.31) rotate(-90) scale(0.992 1)" font-size="10.2" fill="#1a1a1a" stroke="#1a1a1a" stroke-width="0.24">Normalized colony number</text>
<rect x="462.80" y="517.10" width="14.10" height="8.10" fill="#6aa643"/>
<rect x="462.80" y="533.00" width="14.10" height="7.80" fill="#2c4a84"/>
<rect x="462.80" y="548.90" width="14.10" height="7.90" fill="#a3002b"/>
<text transform="translate(480.36 524.20) scale(0.921 1)" font-size="8.5" fill="#1a1a1a" stroke="#1a1a1a" stroke-width="0.24">White</text>
<text transform="translate(479.75 540.10) scale(0.957 1)" font-size="8.5" fill="#1a1a1a" stroke="#1a1a1a" stroke-width="0.24">Mixed</text>
<text transform="translate(479.80 556.00) scale(0.877 1)" font-size="8.5" fill="#1a1a1a" stroke="#1a1a1a" stroke-width="0.24">Red</text>
<rect x="0.00" y="0.00" width="520.00" height="1.45" fill="#111"/>
<rect x="0.00" y="0.00" width="1.85" height="707.00" fill="#444"/>
<rect x="518.70" y="0.00" width="1.30" height="707.00" fill="#000"/>
<rect x="0.00" y="705.50" width="520.00" height="1.50" fill="#000"/>
</svg></div>
</body></html>
